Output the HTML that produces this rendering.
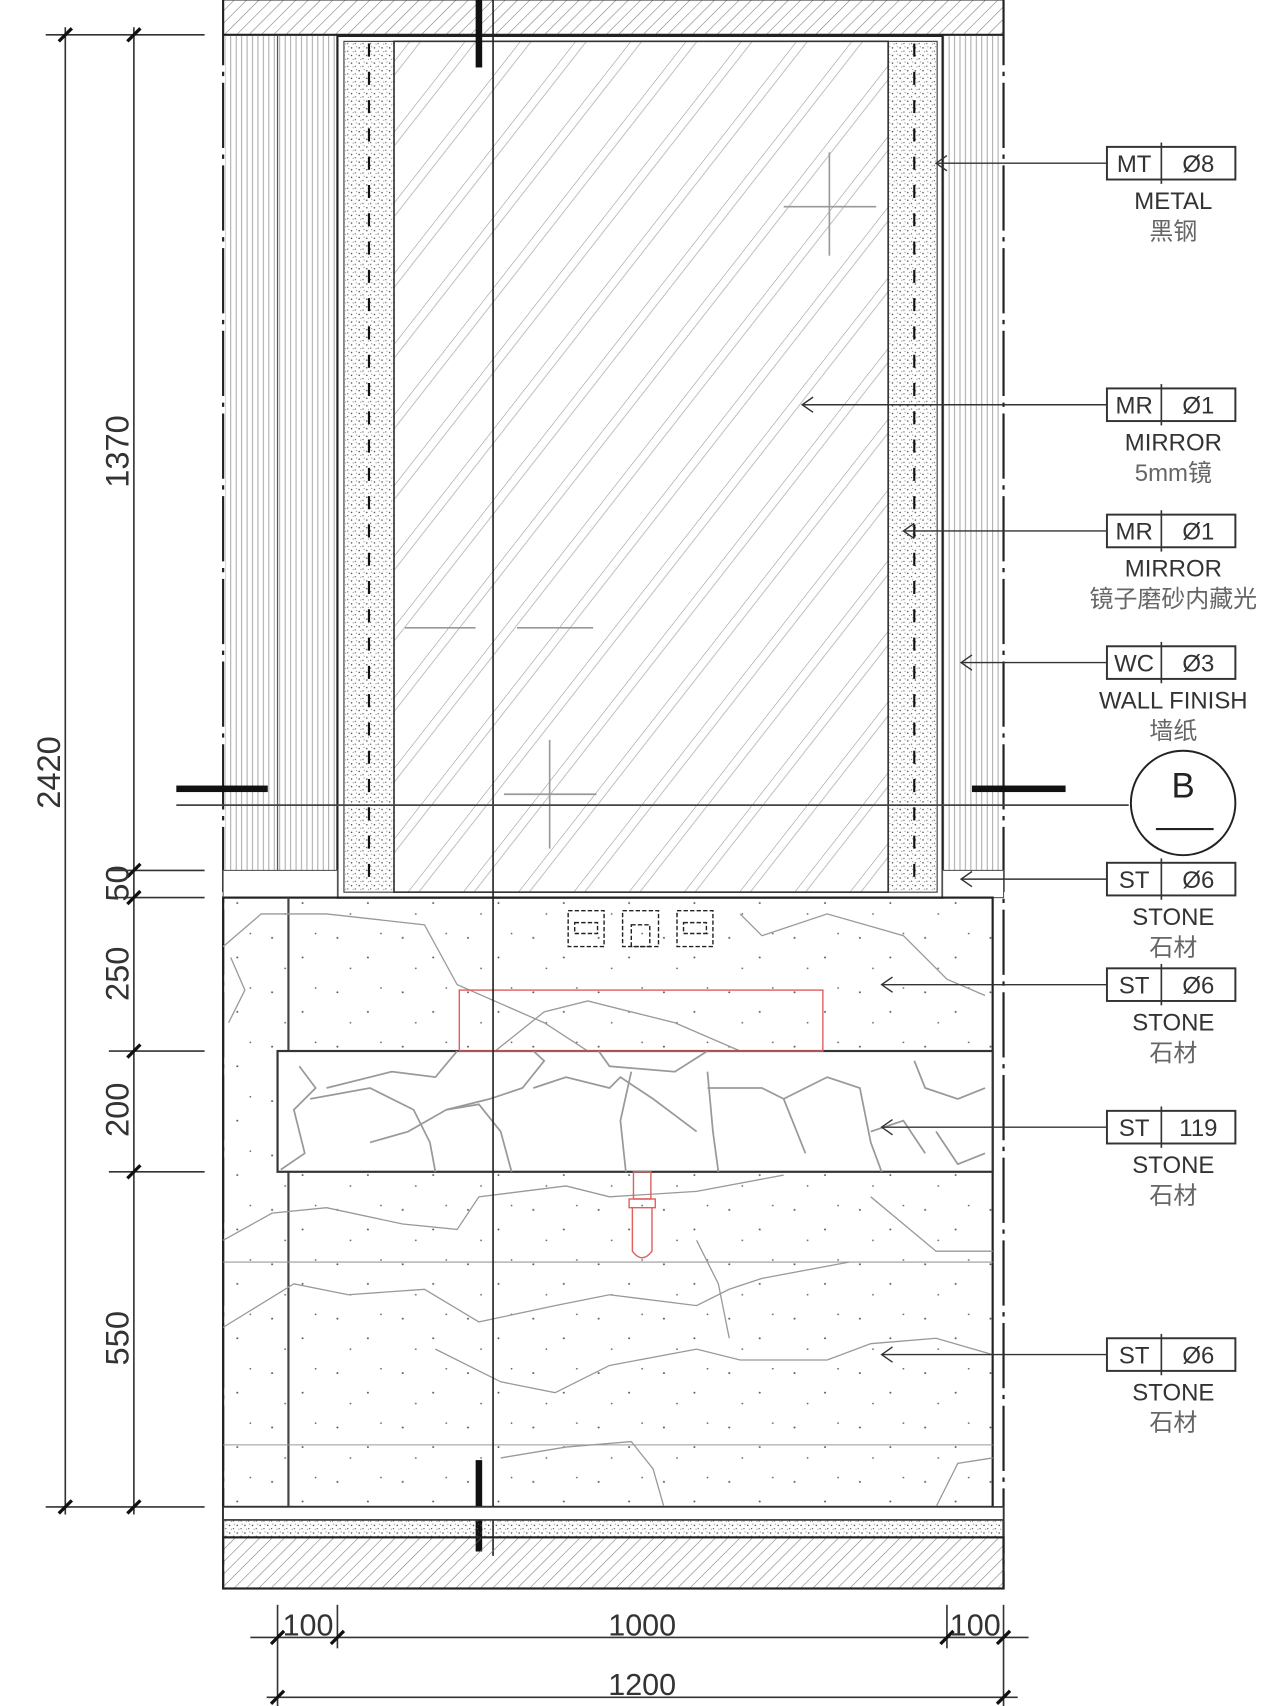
<!DOCTYPE html>
<html><head><meta charset="utf-8"><style>
html,body{margin:0;padding:0;background:#fff;}
svg{display:block;}
text{font-family:"Liberation Sans","Noto Sans CJK SC",sans-serif;}
</style></head><body>
<svg width="1280" height="1706" viewBox="0 0 1176 1568" preserveAspectRatio="none" xmlns="http://www.w3.org/2000/svg">
<defs>
<pattern id="hatch" width="8" height="8" patternUnits="userSpaceOnUse" patternTransform="rotate(45)"><line x1="0" y1="0" x2="0" y2="8" stroke="#777" stroke-width="1"/></pattern>
<pattern id="vlines" width="5" height="10" patternUnits="userSpaceOnUse"><line x1="2" y1="0" x2="2" y2="10" stroke="#999" stroke-width="0.8"/></pattern>
<pattern id="speck" width="7" height="7" patternUnits="userSpaceOnUse"><circle cx="1" cy="2" r="0.7" fill="#444"/><circle cx="4.5" cy="5" r="0.6" fill="#555"/><circle cx="5.5" cy="1" r="0.5" fill="#666"/><circle cx="2.5" cy="5.5" r="0.5" fill="#666"/></pattern>
<pattern id="dots" width="60" height="50" patternUnits="userSpaceOnUse"><circle cx="10" cy="12" r="0.9" fill="#555"/><circle cx="38" cy="30" r="0.9" fill="#555"/><circle cx="50" cy="8" r="0.8" fill="#666"/><circle cx="22" cy="40" r="0.8" fill="#666"/></pattern>
<pattern id="mirror" width="40" height="40" patternUnits="userSpaceOnUse" patternTransform="rotate(38)"><line x1="0" y1="0" x2="0" y2="40" stroke="#888" stroke-width="0.9"/><line x1="8" y1="0" x2="8" y2="40" stroke="#aaa" stroke-width="0.7"/></pattern>
</defs>

<rect x="205" y="0" width="717" height="32" fill="url(#hatch)" stroke="#333" stroke-width="1"/>
<line x1="205" y1="32" x2="922" y2="32" stroke="#222" stroke-width="2"/>
<rect x="207" y="33" width="103" height="767" fill="url(#vlines)"/>
<rect x="866" y="33" width="54" height="767" fill="url(#vlines)"/>
<line x1="255" y1="33" x2="255" y2="800" stroke="#555" stroke-width="1.2"/>
<line x1="205" y1="0" x2="205" y2="1460" stroke="#222" stroke-width="2" stroke-dasharray="60 6 4 6"/>
<line x1="922" y1="0" x2="922" y2="1460" stroke="#222" stroke-width="2" stroke-dasharray="60 6 4 6"/>
<rect x="310" y="33" width="556" height="792" fill="none" stroke="#222" stroke-width="2"/>
<rect x="316" y="38" width="46" height="782" fill="url(#speck)" stroke="#333"/>
<rect x="816" y="38" width="45" height="782" fill="url(#speck)" stroke="#333"/>
<line x1="339" y1="40" x2="339" y2="815" stroke="#111" stroke-width="2" stroke-dasharray="12 14"/>
<line x1="840" y1="40" x2="840" y2="815" stroke="#111" stroke-width="2" stroke-dasharray="12 14"/>
<rect x="362" y="38" width="454" height="782" fill="url(#mirror)" stroke="#333" stroke-width="1.5"/>
<g stroke="#999" stroke-width="1.5"><line x1="720" y1="190" x2="805" y2="190"/><line x1="762" y1="140" x2="762" y2="235"/>
<line x1="372" y1="577" x2="437" y2="577"/><line x1="475" y1="577" x2="545" y2="577"/>
<line x1="463" y1="730" x2="548" y2="730"/><line x1="505" y1="680" x2="505" y2="780"/></g>
<rect x="205" y="800" width="105" height="25" fill="#fff" stroke="#555"/>
<rect x="866" y="800" width="56" height="25" fill="#fff" stroke="#555"/>
<rect x="205" y="825" width="707" height="560" fill="url(#dots)" stroke="#222" stroke-width="2"/>
<line x1="265" y1="825" x2="265" y2="1385" stroke="#444" stroke-width="2"/>
<line x1="205" y1="1160" x2="912" y2="1160" stroke="#999"/>
<line x1="205" y1="1328" x2="912" y2="1328" stroke="#999"/>
<g fill="none" stroke="#999" stroke-width="1.2">
<polyline points="205,870 240,840 300,840 390,850 420,905 500,940 540,966"/>
<polyline points="212,880 225,910 210,940"/>
<polyline points="680,840 700,860 760,840 830,860 870,900 905,915"/>
<polyline points="455,966 500,930 540,920 620,940 680,966"/>
<polyline points="205,1140 250,1115 300,1110 370,1125 420,1130 440,1100 520,1090 560,1100 640,1095 720,1080"/>
<polyline points="205,1220 270,1180 320,1190 390,1185 440,1215 510,1200 560,1190 640,1200 670,1185 700,1175 780,1160"/>
<polyline points="400,1240 460,1270 510,1280 560,1255 640,1240 680,1250 760,1250 800,1235 860,1230 912,1245"/>
<polyline points="460,1340 520,1330 580,1325 600,1350 610,1385"/>
<polyline points="640,1140 660,1180 670,1230"/>
<polyline points="800,1100 860,1150 912,1150"/>
<polyline points="860,1385 880,1345 912,1340"/>
</g>
<rect x="255" y="966" width="657" height="111" fill="#fff" stroke="#333" stroke-width="2"/>
<g fill="none" stroke="#999" stroke-width="1.6">
<polyline points="275,980 290,1000 270,1020 280,1060 258,1075"/>
<polyline points="285,1010 340,1000 380,1020 395,1050 400,1077"/>
<polyline points="300,1000 360,985 400,990 420,966"/>
<polyline points="340,1050 375,1040 410,1020 440,1015 460,1040 470,1077"/>
<polyline points="410,1020 450,1010 480,1000 500,975 490,966"/>
<polyline points="490,1000 520,990 560,1000 570,990 600,1010 620,1025 640,1040"/>
<polyline points="550,966 560,980 620,985 650,966"/>
<polyline points="580,985 570,1030 575,1077"/>
<polyline points="650,985 655,1040 660,1077"/>
<polyline points="650,1000 700,1000 720,1010 740,1060"/>
<polyline points="720,1010 760,990 790,1000 800,1050 810,1077"/>
<polyline points="800,1040 830,1030 850,1060"/>
<polyline points="840,975 850,1000 880,1010 905,1000"/>
<polyline points="860,1040 880,1070 905,1060"/>
</g>
<g fill="none" stroke="#222" stroke-width="1.3" stroke-dasharray="4 2">
<rect x="522" y="837" width="33" height="33"/><rect x="572" y="837" width="33" height="33"/><rect x="622" y="837" width="33" height="33"/>
<rect x="528" y="848" width="21" height="10"/><rect x="580" y="850" width="17" height="20"/><rect x="628" y="848" width="21" height="10"/>
</g>
<rect x="422" y="910" width="334" height="56" fill="none" stroke="#e06060" stroke-width="1.3"/>
<g fill="none" stroke="#e06060" stroke-width="1.3"><rect x="582" y="1077" width="16" height="25"/><rect x="578" y="1102" width="24" height="8"/><path d="M581 1110 V1150 Q590 1162 599 1150 V1110"/></g>
<line x1="453" y1="0" x2="453" y2="1430" stroke="#222" stroke-width="1.5"/>
<rect x="437" y="0" width="6" height="62" fill="#111"/>
<rect x="437" y="1342" width="6" height="84" fill="#111"/>
<rect x="205" y="1385" width="717" height="12" fill="#fff" stroke="#333" stroke-width="1.5"/>
<rect x="205" y="1397" width="717" height="16" fill="url(#speck)" stroke="#333"/>
<rect x="205" y="1413" width="717" height="47" fill="url(#hatch)" stroke="#222" stroke-width="2"/>
<line x1="162" y1="740" x2="1037" y2="740" stroke="#444" stroke-width="1.5"/>
<rect x="162" y="722" width="84" height="6" fill="#111"/>
<rect x="893" y="722" width="86" height="6" fill="#111"/>
<circle cx="1087" cy="738" r="48" fill="#fff" stroke="#222" stroke-width="1.8"/>
<line x1="1062" y1="762" x2="1115" y2="762" stroke="#222" stroke-width="2"/>
<text x="1087" y="733" font-size="32" text-anchor="middle" fill="#222">B</text>
<g stroke="#333" stroke-width="1.5">
<line x1="60" y1="25" x2="60" y2="1392"/><line x1="123" y1="25" x2="123" y2="1392"/>
<line x1="42" y1="32" x2="188" y2="32"/><line x1="42" y1="1385" x2="188" y2="1385"/>
<line x1="100" y1="800" x2="188" y2="800"/><line x1="100" y1="825" x2="188" y2="825"/>
<line x1="100" y1="966" x2="188" y2="966"/><line x1="100" y1="1077" x2="188" y2="1077"/>
</g>
<g stroke="#111" stroke-width="3">
<line x1="54" y1="38" x2="66" y2="26"/><line x1="54" y1="1391" x2="66" y2="1379"/>
<line x1="117" y1="38" x2="129" y2="26"/><line x1="117" y1="806" x2="129" y2="794"/><line x1="117" y1="831" x2="129" y2="819"/>
<line x1="117" y1="972" x2="129" y2="960"/><line x1="117" y1="1083" x2="129" y2="1071"/><line x1="117" y1="1391" x2="129" y2="1379"/>
</g>
<g font-size="30" fill="#333" text-anchor="middle">
<text transform="translate(55,710) rotate(-90)">2420</text>
<text transform="translate(118,415) rotate(-90)">1370</text>
<text transform="translate(118,812) rotate(-90)">50</text>
<text transform="translate(118,895) rotate(-90)">250</text>
<text transform="translate(118,1020) rotate(-90)">200</text>
<text transform="translate(118,1230) rotate(-90)">550</text>
</g>
<g stroke="#333" stroke-width="1.5">
<line x1="230" y1="1505" x2="945" y2="1505"/><line x1="245" y1="1560" x2="935" y2="1560"/>
<line x1="255" y1="1475" x2="255" y2="1568"/><line x1="310" y1="1475" x2="310" y2="1515"/>
<line x1="870" y1="1475" x2="870" y2="1515"/><line x1="922" y1="1475" x2="922" y2="1568"/>
</g>
<g stroke="#111" stroke-width="3">
<line x1="249" y1="1511" x2="261" y2="1499"/><line x1="304" y1="1511" x2="316" y2="1499"/><line x1="864" y1="1511" x2="876" y2="1499"/><line x1="916" y1="1511" x2="928" y2="1499"/>
<line x1="249" y1="1566" x2="261" y2="1554"/><line x1="916" y1="1566" x2="928" y2="1554"/>
</g>
<g font-size="28" fill="#333" text-anchor="middle">
<text x="283" y="1503">100</text><text x="590" y="1503">1000</text><text x="896" y="1503">100</text><text x="590" y="1558">1200</text>
</g>
<g stroke="#333" stroke-width="1.3" fill="none">
<line x1="860" y1="150" x2="1017" y2="150"/><line x1="737" y1="372" x2="1017" y2="372"/><line x1="830" y1="488" x2="1017" y2="488"/>
<line x1="883" y1="609" x2="1017" y2="609"/><line x1="883" y1="808" x2="1017" y2="808"/><line x1="810" y1="905" x2="1017" y2="905"/>
<line x1="810" y1="1036" x2="1017" y2="1036"/><line x1="810" y1="1245" x2="1017" y2="1245"/>
<polyline points="870,143 860,150 870,157"/><polyline points="747,365 737,372 747,379"/><polyline points="840,481 830,488 840,495"/>
<polyline points="893,602 883,609 893,616"/><polyline points="893,801 883,808 893,815"/><polyline points="820,898 810,905 820,912"/>
<polyline points="820,1029 810,1036 820,1043"/><polyline points="820,1238 810,1245 820,1252"/>
</g>
<g font-size="22" fill="#333" text-anchor="middle">
<g transform="translate(0,150)"><rect x="1017" y="-15" width="118" height="30" fill="#fff" stroke="#333" stroke-width="1.8"/><line x1="1067" y1="-19" x2="1067" y2="19" stroke="#333" stroke-width="1.5"/><text x="1042" y="8">MT</text><text x="1101" y="8">Ø8</text><text x="1078" y="42">METAL</text><text x="1078" y="70" fill="#666">黑钢</text></g>
<g transform="translate(0,372)"><rect x="1017" y="-15" width="118" height="30" fill="#fff" stroke="#333" stroke-width="1.8"/><line x1="1067" y1="-19" x2="1067" y2="19" stroke="#333" stroke-width="1.5"/><text x="1042" y="8">MR</text><text x="1101" y="8">Ø1</text><text x="1078" y="42">MIRROR</text><text x="1078" y="70" fill="#666">5mm镜</text></g>
<g transform="translate(0,488)"><rect x="1017" y="-15" width="118" height="30" fill="#fff" stroke="#333" stroke-width="1.8"/><line x1="1067" y1="-19" x2="1067" y2="19" stroke="#333" stroke-width="1.5"/><text x="1042" y="8">MR</text><text x="1101" y="8">Ø1</text><text x="1078" y="42">MIRROR</text><text x="1078" y="70" fill="#666">镜子磨砂内藏光</text></g>
<g transform="translate(0,609)"><rect x="1017" y="-15" width="118" height="30" fill="#fff" stroke="#333" stroke-width="1.8"/><line x1="1067" y1="-19" x2="1067" y2="19" stroke="#333" stroke-width="1.5"/><text x="1042" y="8">WC</text><text x="1101" y="8">Ø3</text><text x="1078" y="42">WALL FINISH</text><text x="1078" y="70" fill="#666">墙纸</text></g>
<g transform="translate(0,808)"><rect x="1017" y="-15" width="118" height="30" fill="#fff" stroke="#333" stroke-width="1.8"/><line x1="1067" y1="-19" x2="1067" y2="19" stroke="#333" stroke-width="1.5"/><text x="1042" y="8">ST</text><text x="1101" y="8">Ø6</text><text x="1078" y="42">STONE</text><text x="1078" y="70" fill="#666">石材</text></g>
<g transform="translate(0,905)"><rect x="1017" y="-15" width="118" height="30" fill="#fff" stroke="#333" stroke-width="1.8"/><line x1="1067" y1="-19" x2="1067" y2="19" stroke="#333" stroke-width="1.5"/><text x="1042" y="8">ST</text><text x="1101" y="8">Ø6</text><text x="1078" y="42">STONE</text><text x="1078" y="70" fill="#666">石材</text></g>
<g transform="translate(0,1036)"><rect x="1017" y="-15" width="118" height="30" fill="#fff" stroke="#333" stroke-width="1.8"/><line x1="1067" y1="-19" x2="1067" y2="19" stroke="#333" stroke-width="1.5"/><text x="1042" y="8">ST</text><text x="1101" y="8">119</text><text x="1078" y="42">STONE</text><text x="1078" y="70" fill="#666">石材</text></g>
<g transform="translate(0,1245)"><rect x="1017" y="-15" width="118" height="30" fill="#fff" stroke="#333" stroke-width="1.8"/><line x1="1067" y1="-19" x2="1067" y2="19" stroke="#333" stroke-width="1.5"/><text x="1042" y="8">ST</text><text x="1101" y="8">Ø6</text><text x="1078" y="42">STONE</text><text x="1078" y="70" fill="#666">石材</text></g>
</g>
</svg>
</body></html>
